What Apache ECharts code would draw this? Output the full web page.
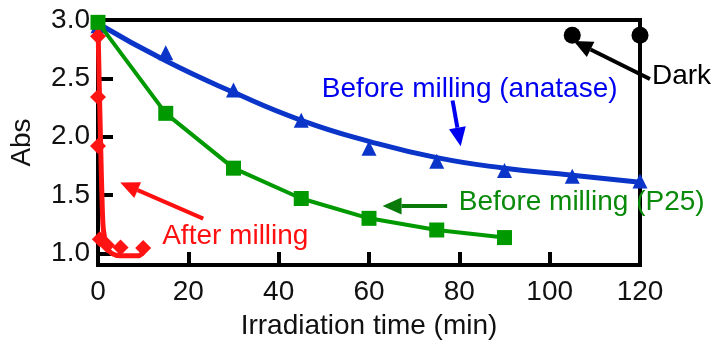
<!DOCTYPE html>
<html>
<head>
<meta charset="utf-8">
<script src="https://cdn.jsdelivr.net/npm/echarts@6/dist/echarts.min.js"></script>
<style>
  html, body { margin: 0; padding: 0; background: #fff; }
  #chart { width: 719px; height: 345px; }
</style>
</head>
<body>
<div id="chart"></div>
<script>
const xTicks = [0, 20, 40, 60, 80, 100, 120]
const yTicks = [1.0, 1.5, 2.0, 2.5, 3.0]

// before milling (anatase): measured points + fitted curve
const anataseTime = [0, 15, 30, 45, 60, 75, 90, 105, 120]
const anataseAbs = [2.95, 2.72, 2.40, 2.14, 1.90, 1.79, 1.71, 1.66, 1.62]
const anataseFitTime = [0, 15, 30, 45, 60, 75, 90, 105, 120]
const anataseFitAbs = [2.97, 2.65, 2.38, 2.14, 1.96, 1.82, 1.73, 1.67, 1.61]

// before milling (P25)
const p25Time = [0, 15, 30, 45, 60, 75, 90]
const p25Abs = [2.98, 2.20, 1.73, 1.47, 1.30, 1.20, 1.135]

// after milling: measured points + fitted curve
const milledTime = [0, 0, 0, 0.4, 2, 5, 10]
const milledAbs = [2.86, 2.34, 1.92, 1.12, 1.07, 1.05, 1.045]
const milledFitTime = [0, 0.3, 0.6, 0.9, 1.2, 2, 3, 5, 9, 10]
const milledFitAbs = [2.97, 2.4, 1.9, 1.45, 1.2, 1.05, 1.0, 0.98, 0.98, 1.01]

// dark
const darkTime = [105, 120]
const darkAbs = [2.87, 2.87]

// annotations (data coordinates)
const noteLabels = ['Before milling (anatase)', 'Before milling (P25)', 'After milling', 'Dark']
const noteAt = [[82.3, 2.41], [107.1, 1.44], [30.4, 1.15], [129.2, 2.52]]
const arrowFrom = [[78.5, 2.31], [77.3, 1.405], [23.3, 1.298], [122.2, 2.494]]
const arrowTo = [[80.3, 1.917], [63.0, 1.405], [4.92, 1.607], [105.3, 2.82]]

const FONT = 'Liberation Sans, Arial, sans-serif'
const BLUE = '#0a35c8'
const GREEN = '#009900'
const RED = '#ff1414'
const noteColors = ['#0000f0', '#0a8a0a', '#ff1010', '#000']
const arrowColors = ['#0000f0', '#0a7a0a', '#ff1010', '#000']

const zip = (xs, ys) => xs.map((x, i) => [x, ys[i]])

const chart = echarts.init(document.getElementById('chart'))

const option = {
  animation: false,
  grid: {
    left: 96, right: 79, top: 20, bottom: 77,
    show: true, borderColor: '#000', borderWidth: 4
  },
  xAxis: {
    type: 'value',
    min: 0, max: 120, interval: 20,
    name: 'Irradiation time (min)',
    nameLocation: 'middle',
    nameGap: 47,
    nameTextStyle: { fontSize: 28, fontFamily: FONT, color: '#111' },
    axisLine: { lineStyle: { color: '#000', width: 4 } },
    axisTick: { inside: true, length: 13, lineStyle: { color: '#000', width: 4 } },
    axisLabel: { margin: 13, fontSize: 28, fontFamily: FONT, color: '#111',
      customValues: xTicks },
    splitLine: { show: false }
  },
  yAxis: {
    type: 'value',
    min: 0.9, max: 3.0,
    name: 'Abs',
    nameLocation: 'middle',
    nameGap: 62,
    nameTextStyle: { fontSize: 28, fontFamily: FONT, color: '#111' },
    axisLine: { show: true, lineStyle: { color: '#000', width: 4 } },
    axisTick: { show: true, inside: true, length: 15, customValues: yTicks,
      lineStyle: { color: '#000', width: 4 } },
    axisLabel: { margin: 8, fontSize: 28, fontFamily: FONT, color: '#111',
      customValues: yTicks, formatter: v => v.toFixed(1) },
    splitLine: { show: false }
  },
  series: [
    {
      name: 'anatase fit', type: 'line', smooth: true, showSymbol: false, clip: false,
      data: zip(anataseFitTime, anataseFitAbs),
      lineStyle: { color: BLUE, width: 5 }
    },
    {
      name: 'anatase', type: 'scatter', symbol: 'triangle', symbolSize: [15, 15], clip: false,
      data: zip(anataseTime, anataseAbs),
      itemStyle: { color: BLUE, opacity: 1 }
    },
    {
      name: 'P25', type: 'line', symbol: 'rect', symbolSize: 15, showAllSymbol: true, clip: false,
      data: zip(p25Time, p25Abs),
      lineStyle: { color: GREEN, width: 4 },
      itemStyle: { color: GREEN }
    },
    {
      name: 'milled fit', type: 'line', smooth: 0.3, showSymbol: false, clip: false,
      data: zip(milledFitTime, milledFitAbs),
      lineStyle: { color: RED, width: 5 }
    },
    {
      name: 'milled', type: 'scatter', symbol: 'diamond', symbolSize: [16, 16], clip: false,
      data: zip(milledTime, milledAbs),
      itemStyle: { color: RED, opacity: 1 }
    },
    {
      name: 'Dark', type: 'scatter', symbol: 'circle', symbolSize: 17, clip: false,
      data: zip(darkTime, darkAbs),
      itemStyle: { color: '#000', opacity: 1 }
    }
  ]
}

chart.setOption(option)

// annotations: place in data space via the chart's own scales
const px = p => chart.convertToPixel({ gridIndex: 0 }, p)

function arrow(from, to, color) {
  const a = px(from), b = px(to)
  const dx = b[0] - a[0], dy = b[1] - a[1]
  const len = Math.sqrt(dx * dx + dy * dy)
  const ux = dx / len, uy = dy / len
  const headLen = 19, headW = 8.5
  const bx = b[0] - ux * headLen, by = b[1] - uy * headLen
  return [
    { type: 'line', shape: { x1: a[0], y1: a[1], x2: bx, y2: by },
      style: { stroke: color, lineWidth: 4 }, z: 100 },
    { type: 'polygon', shape: { points: [b, [bx - uy * headW, by + ux * headW], [bx + uy * headW, by - ux * headW]] },
      style: { fill: color }, z: 100 }
  ]
}

const graphics = []
noteLabels.forEach((t, i) => {
  const p = px(noteAt[i])
  graphics.push({
    type: 'text', x: p[0], y: p[1], z: 100,
    style: { text: t, fill: noteColors[i], font: '28px ' + FONT, textAlign: 'center', textVerticalAlign: 'middle' }
  })
  graphics.push(...arrow(arrowFrom[i], arrowTo[i], arrowColors[i]))
})

chart.setOption({ graphic: graphics })
</script>
</body>
</html>
